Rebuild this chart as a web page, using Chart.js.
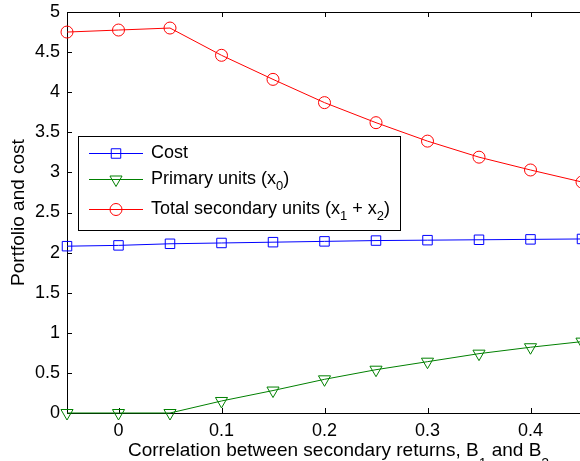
<!DOCTYPE html>
<html>
<head>
<meta charset="utf-8">
<script src="https://cdn.jsdelivr.net/npm/chart.js@4/dist/chart.umd.min.js"></script>
<style>
  html, body { margin: 0; padding: 0; background: #fff; overflow: hidden; }
  #wrap { width: 590px; height: 461px; }
</style>
</head>
<body>
<div id="wrap"><canvas id="myChart" width="590" height="461"></canvas></div>
<script>
// data
const rho = [-0.05, 0, 0.05, 0.1, 0.15, 0.2, 0.25, 0.3, 0.35, 0.4, 0.45];
const cost = [2.08, 2.09, 2.11, 2.12, 2.13, 2.14, 2.15, 2.155, 2.16, 2.165, 2.17];
const primary = [0, 0, 0, 0.15, 0.28, 0.42, 0.54, 0.64, 0.74, 0.82, 0.89];
const secondary = [4.75, 4.775, 4.80, 4.46, 4.16, 3.87, 3.62, 3.39, 3.19, 3.03, 2.88];
const xTicks = [0, 0.1, 0.2, 0.3, 0.4];
const yTicks = [0, 0.5, 1, 1.5, 2, 2.5, 3, 3.5, 4, 4.5, 5];

const FONT = "'Liberation Sans', Arial, sans-serif";

function pts(ys) {
  return rho.map((x, i) => ({ x: x, y: ys[i] }));
}

// text with subscripts: parts = [[text, isSub], ...]
function drawParts(ctx, parts, x, y, size, drop) {
  parts.forEach(p => {
    ctx.font = (p[1] ? Math.round(size * 0.72) : size) + 'px ' + FONT;
    ctx.fillText(p[0], x, p[1] ? y + drop : y);
    x += ctx.measureText(p[0]).width;
  });
}

// frame + inward ticks like matlab, plus the x label with subscripts
const framePlugin = {
  id: 'frame',
  beforeDatasetsDraw(chart) {
    const ctx = chart.ctx, a = chart.chartArea;
    const xs = chart.scales.x, ys = chart.scales.y;
    ctx.save();
    ctx.strokeStyle = '#000';
    ctx.lineWidth = 1;
    ctx.strokeRect(a.left + 0.5, a.top + 0.5, a.right - a.left, a.bottom - a.top);
    ctx.beginPath();
    xTicks.forEach(v => {
      const px = Math.round(xs.getPixelForValue(v)) + 0.5;
      ctx.moveTo(px, a.bottom); ctx.lineTo(px, a.bottom - 5);
      ctx.moveTo(px, a.top); ctx.lineTo(px, a.top + 5);
    });
    yTicks.forEach(v => {
      const py = Math.round(ys.getPixelForValue(v)) + 0.5;
      ctx.moveTo(a.left, py); ctx.lineTo(a.left + 5, py);
    });
    ctx.stroke();

    ctx.fillStyle = '#000';
    ctx.textBaseline = 'alphabetic';
    ctx.textAlign = 'left';
    drawParts(ctx, [['Correlation between secondary returns, B', false], ['1', true],
      [' and B', false], ['2', true]], 128, 456, 19, 12);
    ctx.restore();
  }
};

const legendPlugin = {
  id: 'boxLegend',
  afterDraw(chart) {
    const ctx = chart.ctx;
    const rows = [
      { ds: 0, y: 153, parts: [['Cost', false]] },
      { ds: 1, y: 179, parts: [['Primary units (x', false], ['0', true], [')', false]] },
      { ds: 2, y: 209, parts: [['Total secondary units (x', false], ['1', true], [' + x', false], ['2', true], [')', false]] }
    ];
    ctx.save();
    ctx.fillStyle = '#fff';
    ctx.fillRect(78, 136, 322, 94);
    ctx.strokeStyle = '#000';
    ctx.lineWidth = 1;
    ctx.strokeRect(78.5, 136.5, 322, 94);
    rows.forEach(r => {
      const d = chart.data.datasets[r.ds];
      ctx.strokeStyle = d.borderColor;
      ctx.fillStyle = 'rgba(0,0,0,0)';
      ctx.lineWidth = 1;
      ctx.beginPath();
      ctx.moveTo(89, r.y + 0.5); ctx.lineTo(143, r.y + 0.5);
      ctx.stroke();
      Chart.helpers.drawPoint(ctx, {
        pointStyle: d.pointStyle, rotation: d.pointRotation || 0,
        radius: d.pointRadius, borderWidth: 1
      }, 116, r.y + 0.5);
      ctx.fillStyle = '#000';
      ctx.textBaseline = 'middle';
      ctx.textAlign = 'left';
      drawParts(ctx, r.parts, 151, r.y, 18, 7);
    });
    ctx.restore();
  }
};

const ctx = document.getElementById('myChart');

const myChart = new Chart(ctx, {
  type: 'line',
  data: {
    datasets: [{
      label: 'Cost',
      data: pts(cost),
      borderColor: '#0000ff',
      backgroundColor: 'rgba(0,0,0,0)',
      pointStyle: 'rect',
      pointRadius: 6.7
    }, {
      label: 'Primary units (x0)',
      data: pts(primary),
      borderColor: '#008000',
      backgroundColor: 'rgba(0,0,0,0)',
      pointStyle: 'triangle',
      pointRotation: 180,
      pointRadius: 7
    }, {
      label: 'Total secondary units (x1 + x2)',
      data: pts(secondary),
      borderColor: '#ff0000',
      backgroundColor: 'rgba(0,0,0,0)',
      pointStyle: 'circle',
      pointRadius: 6
    }]
  },
  options: {
    responsive: false,
    animation: false,
    devicePixelRatio: 1,
    clip: false,
    elements: {
      line: { borderWidth: 1, tension: 0 },
      point: { borderWidth: 1, hoverRadius: 6 }
    },
    layout: { padding: { left: 0, right: 5, top: 12, bottom: 0 } },
    plugins: {
      legend: { display: false },
      tooltip: { enabled: false }
    },
    scales: {
      x: {
        type: 'linear',
        min: -0.05,
        max: 0.45,
        afterFit: s => { s.height = 48; s.paddingLeft = 0; s.paddingRight = 0; },
        afterBuildTicks: s => { s.ticks = xTicks.map(v => ({ value: v })); },
        grid: { display: false, drawTicks: false },
        border: { display: false },
        ticks: {
          color: '#000',
          padding: 7,
          maxRotation: 0,
          autoSkip: false,
          font: { family: FONT, size: 18 },
          callback: v => String(Math.round(v * 10) / 10)
        }
      },
      y: {
        min: 0,
        max: 5,
        afterFit: s => { s.width = 67; s.paddingTop = 0; s.paddingBottom = 0; },
        afterBuildTicks: s => { s.ticks = yTicks.map(v => ({ value: v })); },
        grid: { display: false, drawTicks: false },
        border: { display: false },
        ticks: {
          color: '#000',
          padding: 7,
          autoSkip: false,
          font: { family: FONT, size: 18 },
          callback: v => String(v)
        },
        title: {
          display: true,
          text: 'Portfolio and cost',
          color: '#000',
          font: { family: FONT, size: 19 },
          padding: { top: 7, bottom: 0 }
        }
      }
    }
  },
  plugins: [framePlugin, legendPlugin]
});
</script>
</body>
</html>
